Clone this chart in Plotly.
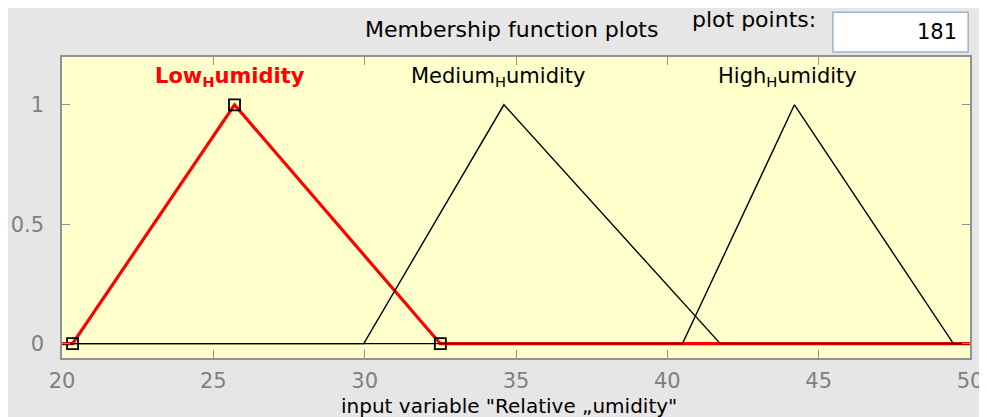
import plotly.graph_objects as go

# membership function vertices (input variable "Relative Humidity")
x_range = [20, 50]
y_range = [-0.06, 1.2]
low_pts = [20.35, 25.7, 32.5]
med_pts = [29.97, 34.6, 41.75]
high_pts = [40.5, 44.2, 49.45]
mf_names = ["Low<sub>H</sub>umidity", "Medium<sub>H</sub>umidity", "High<sub>H</sub>umidity"]
label_x = [25.55, 34.4, 43.98]
plot_points = "181"

FONT = "DejaVu Sans, Liberation Sans, Arial"


def tri(p):
    xs = [x_range[0], p[0], p[1], p[2], x_range[1]]
    ys = [0, 0, 1, 0, 0]
    return xs, ys


fig = go.Figure()

lx, ly = tri(low_pts)
fig.add_trace(go.Scatter(x=lx, y=ly, mode="lines",
                         line=dict(color="#ff0000", width=3.2), hoverinfo="skip"))
for p in (med_pts, high_pts):
    mx, my = tri(p)
    fig.add_trace(go.Scatter(x=mx, y=my, mode="lines",
                             line=dict(color="black", width=1.4), hoverinfo="skip"))
# selected MF vertex handles
fig.add_trace(go.Scatter(x=low_pts, y=[0, 1, 0], mode="markers",
                         marker=dict(symbol="square-open", size=11, color="black",
                                     line=dict(width=1.8)),
                         hoverinfo="skip"))

for i, (name, xv) in enumerate(zip(mf_names, label_x)):
    if i == 0:
        f = dict(size=21, color="#ff0000", family="DejaVu Sans, Arial", weight="bold")
    else:
        f = dict(size=21, color="black", family=FONT)
    fig.add_annotation(x=xv, y=1.115, text=name, showarrow=False, font=f,
                       xanchor="center", yanchor="middle")

fig.add_annotation(xref="paper", yref="paper", x=0.4945, y=1.09,
                   text="Membership function plots", showarrow=False,
                   xanchor="center", yanchor="middle",
                   font=dict(size=22, color="black", family=FONT))
fig.add_annotation(xref="paper", yref="paper", x=0.762, y=1.123,
                   text="plot points:", showarrow=False,
                   xanchor="center", yanchor="middle",
                   font=dict(size=22, color="black", family=FONT))
fig.add_shape(type="rect", xref="paper", yref="paper", x0=0.849, x1=0.998,
              y0=1.017, y1=1.149, fillcolor="white",
              line=dict(color="#9fb3c8", width=1.5))
fig.add_annotation(xref="paper", yref="paper", x=0.988, y=1.083,
                   text=plot_points, showarrow=False,
                   xanchor="right", yanchor="middle",
                   font=dict(size=21, color="black", family=FONT))
# x axis title
fig.add_annotation(xref="paper", yref="paper", x=0.492, y=-0.16,
                   text='input variable "Relative „umidity"', showarrow=False,
                   xanchor="center", yanchor="middle",
                   font=dict(size=20, color="black", family=FONT))

axis_common = dict(showgrid=False, zeroline=False, mirror="ticks",
                   showline=True, linecolor="#929292", linewidth=1.5,
                   ticks="inside", ticklen=8, tickcolor="#929292",
                   automargin=False,
                   tickfont=dict(size=21, color="#7f7f7f", family=FONT))

fig.update_xaxes(range=x_range, tickvals=[20, 25, 30, 35, 40, 45, 50],
                 ticklabelstandoff=3, **axis_common)
fig.update_yaxes(range=y_range, tickvals=[0, 0.5, 1],
                 ticktext=["0", "0.5", "1"], ticklabelstandoff=12,
                 **axis_common)

# page body keeps its 8px margin, which gives the white edge at top/left
fig.update_layout(width=979, height=409, showlegend=False,
                  margin=dict(l=54, r=17, t=49, b=59),
                  paper_bgcolor="#e6e6e6", plot_bgcolor="#ffffcc",
                  font=dict(family=FONT))

fig.write_html("out.html")
